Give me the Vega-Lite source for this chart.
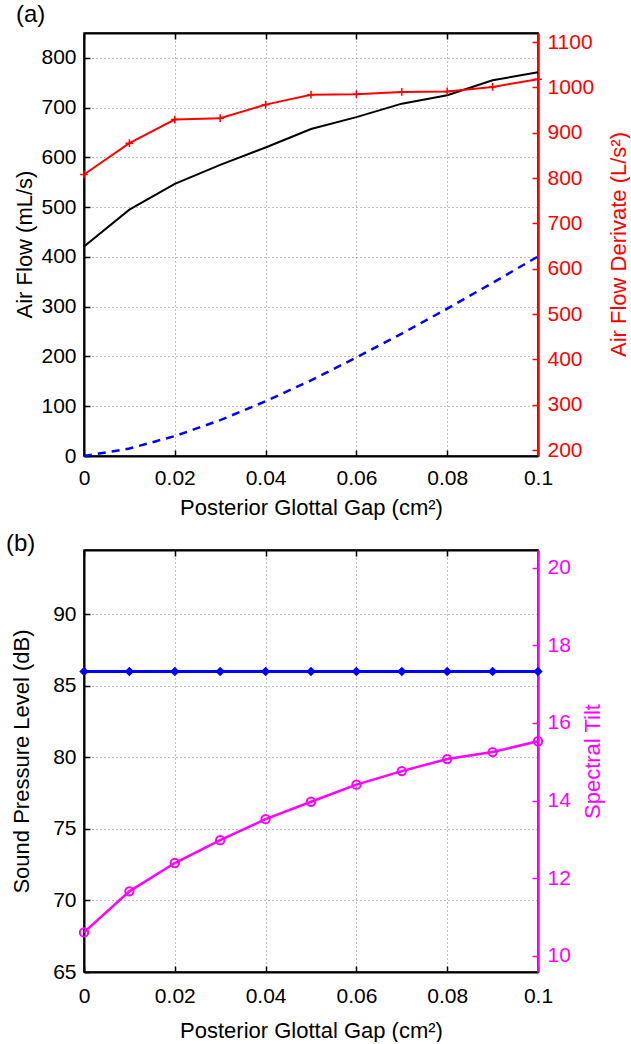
{
  "$schema": "https://vega.github.io/schema/vega-lite/v6.json",
  "padding": {"left": 5, "top": 2, "right": 0, "bottom": 0},
  "bounds": "flush",
  "spacing": 94,
  "background": "white",
  "config": {
    "font": "Liberation Sans",
    "view": {"stroke": "black", "strokeWidth": 1.5},
    "axis": {
      "labelFont": "Liberation Sans", "titleFont": "Liberation Sans",
      "labelFontSize": 21, "titleFontSize": 22, "titleFontWeight": "normal",
      "labelColor": "black", "titleColor": "black",
      "domainColor": "black", "domainWidth": 2,
      "tickColor": "black", "tickWidth": 1.5, "tickSize": -6,
      "gridColor": "#7a7a7a", "gridDash": [1, 3], "gridWidth": 1, "gridOpacity": 1,
      "labelPadding": 14, "titlePadding": 5, "labelFlush": false
    },
    "title": {"font": "Liberation Sans", "fontSize": 24, "fontWeight": "normal", "anchor": "start", "frame": "group", "color": "black"}
  },
  "datasets": {
    "a": [
      {"gap": 0, "flow": 421, "dashed": 0, "deriv": 808},
      {"gap": 0.01, "flow": 495, "dashed": 15, "deriv": 877},
      {"gap": 0.02, "flow": 547, "dashed": 40, "deriv": 929},
      {"gap": 0.03, "flow": 585, "dashed": 72, "deriv": 932},
      {"gap": 0.04, "flow": 620, "dashed": 110, "deriv": 962},
      {"gap": 0.05, "flow": 657, "dashed": 152, "deriv": 984},
      {"gap": 0.06, "flow": 681, "dashed": 198, "deriv": 985},
      {"gap": 0.07, "flow": 708, "dashed": 246, "deriv": 990},
      {"gap": 0.08, "flow": 725, "dashed": 296, "deriv": 991},
      {"gap": 0.09, "flow": 755, "dashed": 348, "deriv": 1001},
      {"gap": 0.1, "flow": 771, "dashed": 401, "deriv": 1018}
    ],
    "b": [
      {"gap": 0, "spl": 86, "tilt": 10.6},
      {"gap": 0.01, "spl": 86, "tilt": 11.66},
      {"gap": 0.02, "spl": 86, "tilt": 12.39},
      {"gap": 0.03, "spl": 86, "tilt": 12.98},
      {"gap": 0.04, "spl": 86, "tilt": 13.52},
      {"gap": 0.05, "spl": 86, "tilt": 13.97},
      {"gap": 0.06, "spl": 86, "tilt": 14.41},
      {"gap": 0.07, "spl": 86, "tilt": 14.76},
      {"gap": 0.08, "spl": 86, "tilt": 15.07},
      {"gap": 0.09, "spl": 86, "tilt": 15.25},
      {"gap": 0.1, "spl": 86, "tilt": 15.53}
    ]
  },
  "vconcat": [
    {
      "width": 454, "height": 423,
      "title": {"text": "(a)", "dx": -68, "offset": 4},
      "data": {"name": "a"},
      "layer": [
        {
          "mark": {"type": "line", "color": "black", "strokeWidth": 2},
          "encoding": {
            "x": {"field": "gap", "type": "quantitative", "scale": {"domain": [0, 0.1]},
                  "axis": {"title": "Posterior Glottal Gap (cm²)", "values": [0, 0.02, 0.04, 0.06, 0.08, 0.1], "format": ".2~f", "labelPadding": 17, "titlePadding": 9, "grid": true}},
            "y": {"field": "flow", "type": "quantitative", "scale": {"domain": [0, 850]},
                  "axis": {"title": "Air Flow (mL/s)", "values": [0, 100, 200, 300, 400, 500, 600, 700, 800], "grid": true,
                           "titleX": -60, "titleY": 211, "titleAngle": 270, "titleBaseline": "middle", "titleAlign": "center"}}
          }
        },
        {
          "mark": {"type": "line", "color": "#0000ff", "strokeWidth": 2.5, "strokeDash": [8, 6]},
          "encoding": {
            "x": {"field": "gap", "type": "quantitative", "axis": null},
            "y": {"field": "dashed", "type": "quantitative", "scale": {"domain": [0, 850]}, "axis": null}
          }
        },
        {
          "mark": {"type": "line", "color": "#ff0000", "strokeWidth": 2,
                   "point": {"shape": "M-1,0L1,0M0,-1L0,1", "filled": false, "size": 60, "color": "#ff0000", "strokeWidth": 1.5}},
          "encoding": {
            "x": {"field": "gap", "type": "quantitative",
                  "axis": {"orient": "top", "labels": false, "title": null, "grid": false, "values": [0, 0.02, 0.04, 0.06, 0.08, 0.1]}},
            "y": {"field": "deriv", "type": "quantitative", "scale": {"domain": [187, 1120]},
                  "axis": {"orient": "right", "title": "Air Flow Derivate (L/s²)", "format": "d",
                           "titleX": 80, "titleY": 211, "titleAngle": 270, "titleBaseline": "middle", "titleAlign": "center",
                           "values": [200, 300, 400, 500, 600, 700, 800, 900, 1000, 1100], "grid": false,
                           "labelColor": "#ff0000", "titleColor": "#ff0000", "domainColor": "#ff0000", "tickColor": "#ff0000", "domainWidth": 2.5, "labelPadding": 15}}
          }
        }
      ],
      "resolve": {"scale": {"y": "independent"}, "axis": {"x": "independent", "y": "independent"}}
    },
    {
      "width": 454, "height": 422,
      "title": {"text": "(b)", "dx": -78, "offset": -7},
      "data": {"name": "b"},
      "layer": [
        {
          "mark": {"type": "line", "color": "#0000ff", "strokeWidth": 3,
                   "point": {"shape": "diamond", "filled": true, "size": 90, "color": "#0000ff"}},
          "encoding": {
            "x": {"field": "gap", "type": "quantitative", "scale": {"domain": [0, 0.1]},
                  "axis": {"title": "Posterior Glottal Gap (cm²)", "values": [0, 0.02, 0.04, 0.06, 0.08, 0.1], "format": ".2~f", "labelPadding": 19, "titlePadding": 14, "grid": true}},
            "y": {"field": "spl", "type": "quantitative", "scale": {"domain": [65, 94.5]},
                  "axis": {"title": "Sound Pressure Level (dB)", "values": [65, 70, 75, 80, 85, 90], "grid": true,
                           "titleX": -63, "titleY": 211, "titleAngle": 270, "titleBaseline": "middle", "titleAlign": "center"}}
          }
        },
        {
          "mark": {"type": "line", "color": "#ff00ff", "strokeWidth": 2.5,
                   "point": {"shape": "circle", "filled": false, "size": 70, "color": "#ff00ff", "strokeWidth": 2}},
          "encoding": {
            "x": {"field": "gap", "type": "quantitative",
                  "axis": {"orient": "top", "labels": false, "title": null, "grid": false, "values": [0, 0.02, 0.04, 0.06, 0.08, 0.1]}},
            "y": {"field": "tilt", "type": "quantitative", "scale": {"domain": [9.58, 20.46]},
                  "axis": {"orient": "right", "title": "Spectral Tilt",
                           "titleX": 54, "titleY": 211, "titleAngle": 270, "titleBaseline": "middle", "titleAlign": "center",
                           "values": [10, 12, 14, 16, 18, 20], "grid": false,
                           "labelColor": "#ff00ff", "titleColor": "#ff00ff", "domainColor": "#ff00ff", "tickColor": "#ff00ff", "domainWidth": 2.5, "labelPadding": 15}}
          }
        }
      ],
      "resolve": {"scale": {"y": "independent"}, "axis": {"x": "independent", "y": "independent"}}
    }
  ]
}
